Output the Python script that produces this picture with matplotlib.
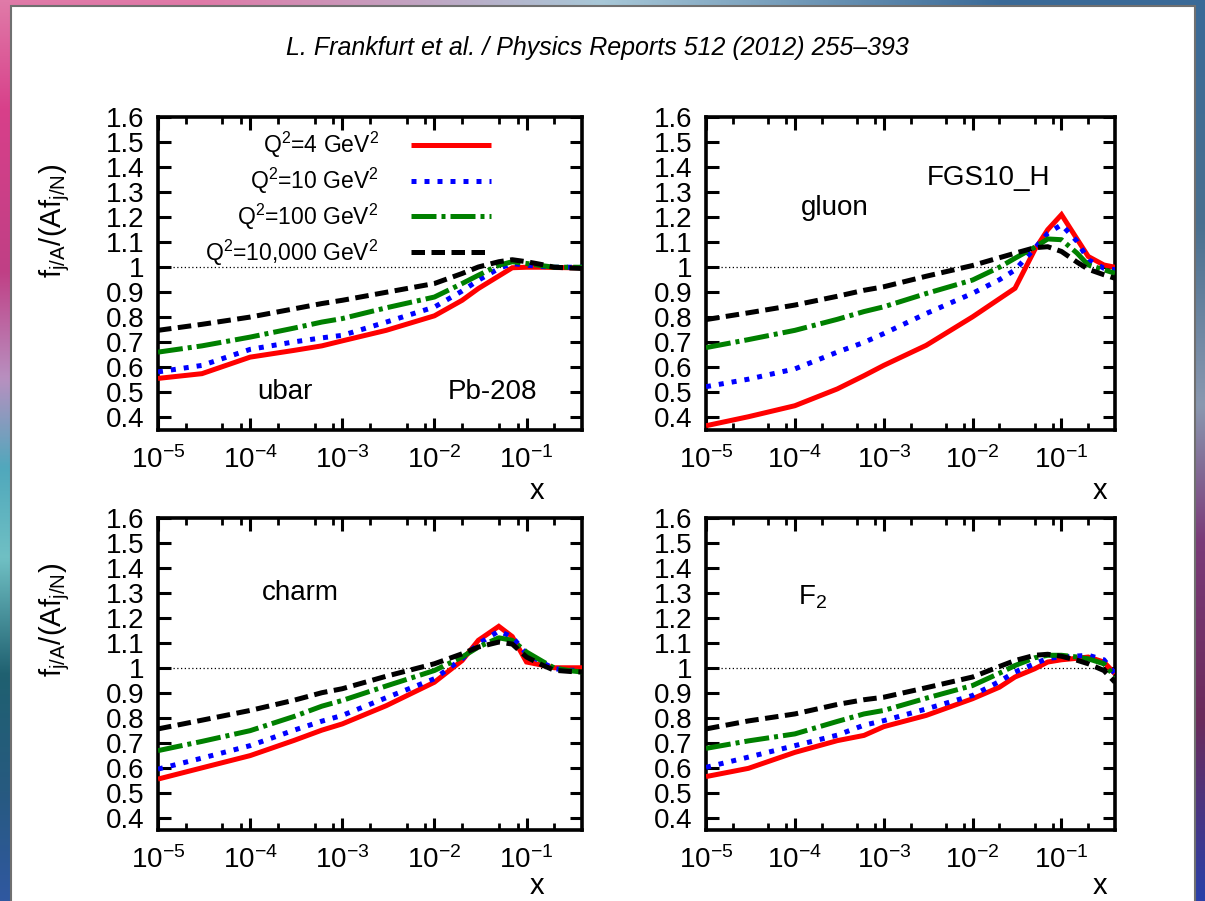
import matplotlib
matplotlib.use("Agg")
import matplotlib.pyplot as plt
import matplotlib.ticker as mticker
from matplotlib.colors import to_rgb
from matplotlib.patches import Rectangle
import numpy as np

# nuclear / nucleon PDF ratios, FGS10_H, Pb-208, four Q^2 values
plt.rcParams['font.family'] = ['Liberation Sans', 'DejaVu Sans']
plt.rcParams['mathtext.fontset'] = 'custom'
plt.rcParams['mathtext.rm'] = 'Liberation Sans'
plt.rcParams['mathtext.it'] = 'Liberation Sans:italic'
plt.rcParams['mathtext.bf'] = 'Liberation Sans:bold'

x = [1e-5, 3e-5, 1e-4, 3e-4, 6e-4, 1e-3, 3e-3, 1e-2, 2e-2, 3e-2,
     5e-2, 7e-2, 1e-1, 1.5e-1, 2e-1, 3e-1, 4e-1]

labels = ["Q$^2$=4 GeV$^2$", "Q$^2$=10 GeV$^2$",
          "Q$^2$=100 GeV$^2$", "Q$^2$=10,000 GeV$^2$"]

ubar_q4 = [.556, .575, .641, .668, .686, .706, .748, .806, .868, .915, .965, .998, 1.0, 1.0, .999, .998, .998]
ubar_q10 = [.582, .608, .672, .702, .718, .728, .781, .841, .905, .948, .995, 1.015, 1.008, 1.003, 1.0, 1.0, 1.0]
ubar_q100 = [.661, .686, .721, .757, .781, .795, .838, .881, .935, .968, 1.008, 1.022, 1.015, 1.006, 1.0, 1.0, 1.0]
ubar_q10k = [.748, .772, .801, .834, .855, .868, .900, .935, .975, 1.001, 1.022, 1.030, 1.022, 1.01, 1.0, .997, .995]

gluon_q4 = [.367, .403, .447, .514, .567, .608, .688, .802, .874, .916, 1.07, 1.15, 1.21, 1.112, 1.043, 1.009, 1.0]
gluon_q10 = [.523, .553, .594, .661, .700, .735, .815, .896, .950, .989, 1.076, 1.135, 1.17, 1.103, 1.03, .996, .99]
gluon_q100 = [.679, .711, .748, .792, .823, .842, .895, .949, 1.0, 1.036, 1.08, 1.113, 1.11, 1.056, 1.009, .99, .976]
gluon_q10k = [.791, .818, .849, .884, .908, .922, .964, 1.007, 1.038, 1.056, 1.078, 1.082, 1.063, 1.02, .992, .97, .956]

charm_q4 = [.554, .599, .648, .709, .750, .775, .848, .942, 1.029, 1.11, 1.166, 1.125, 1.023, 1.01, 1.0, 1.0, 1.0]
charm_q10 = [.594, .638, .688, .750, .786, .809, .880, .956, 1.036, 1.096, 1.147, 1.123, 1.056, 1.02, .996, .99, .99]
charm_q100 = [.668, .705, .748, .805, .846, .869, .927, .989, 1.043, 1.083, 1.12, 1.11, 1.063, 1.025, .999, .988, .983]
charm_q10k = [.755, .790, .829, .870, .900, .916, .966, 1.016, 1.056, 1.083, 1.103, 1.095, 1.043, 1.01, .99, .985, .983]

f2_q4 = [.564, .597, .661, .708, .729, .764, .809, .876, .922, .963, .996, 1.023, 1.032, 1.038, 1.043, 1.023, .976]
f2_q10 = [.601, .642, .688, .730, .770, .788, .835, .889, .945, .983, 1.016, 1.038, 1.043, 1.047, 1.05, 1.032, .976]
f2_q100 = [.677, .707, .735, .785, .815, .829, .878, .929, .978, 1.009, 1.04, 1.05, 1.05, 1.043, 1.036, 1.016, .963]
f2_q10k = [.755, .787, .815, .853, .872, .882, .920, .963, 1.005, 1.029, 1.05, 1.054, 1.046, 1.03, 1.016, .989, .942]

panels = [
    [ubar_q4, ubar_q10, ubar_q100, ubar_q10k],
    [gluon_q4, gluon_q10, gluon_q100, gluon_q10k],
    [charm_q4, charm_q10, charm_q100, charm_q10k],
    [f2_q4, f2_q10, f2_q100, f2_q10k],
]

colors = ['#ff0000', '#0000ff', '#008000', '#000000']
dashes = [None, (1.0, 1.6), (5.0, 1.0, 0.8, 1.0), (2.7, 1.3)]
LW = 3.6

fig = plt.figure(figsize=(12.05, 9.01), dpi=100)

# background behind the page
bg = fig.add_axes([0, 0, 1, 1], zorder=-5)
bg.set_axis_off()
def column(stops, n=200):
    pos = [s[0] for s in stops]
    cols = np.array([to_rgb(s[1]) for s in stops])
    t = np.linspace(0, 1, n)
    return np.stack([np.interp(t, pos, cols[:, k]) for k in range(3)], axis=1)
left_col = column([(0, '#e07aa8'), (0.12, '#d8408a'), (0.3, '#c03f85'), (0.42, '#b890c0'),
                   (0.52, '#50a8bc'), (0.62, '#70c0c4'), (0.75, '#1f6070'), (0.88, '#275a80'),
                   (1.0, '#3058a0')])
mid_col = column([(0, '#a8c8d8'), (1.0, '#a8c8d8')])
right_col = column([(0, '#3a6a98'), (0.25, '#4a7090'), (0.45, '#8a98b0'), (0.6, '#7a3a78'),
                    (0.8, '#6a2a5a'), (1.0, '#2a40a8')])
img = np.stack([left_col, mid_col, right_col], axis=1)
bg.imshow(img, extent=[0, 1, 0, 1], aspect='auto', interpolation='bilinear')
bg.add_patch(Rectangle((11 / 1205, -0.02), (1195 - 11) / 1205, 1.02 - 6 / 901,
                       facecolor='white', edgecolor='#707070', lw=1.5))
bg.set_xlim(0, 1)
bg.set_ylim(0, 1)

fig.text(597 / 1205, 1 - 48 / 901, "L. Frankfurt et al. / Physics Reports 512 (2012) 255\u2013393",
         ha='center', va='center', fontsize=18, style='italic', stretch='condensed',
         family=['Liberation Sans Narrow', 'Liberation Sans', 'DejaVu Sans'])

rects = [
    [158 / 1205, 1 - 430 / 901, 424 / 1205, 313 / 901],
    [706 / 1205, 1 - 430 / 901, 409 / 1205, 313 / 901],
    [158 / 1205, 1 - 830 / 901, 424 / 1205, 312 / 901],
    [706 / 1205, 1 - 830 / 901, 409 / 1205, 312 / 901],
]
xlabel_pos = [(0.894, -0.15), (0.963, -0.15), (0.894, -0.135), (0.963, -0.135)]

axes = []
for i, (rect, series) in enumerate(zip(rects, panels)):
    ax = fig.add_axes(rect)
    ax.set_xscale('log')
    ax.axhline(1.0, color='black', lw=0.9, ls=(0, (1, 2)), zorder=1)
    for j, ys in enumerate(series):
        line, = ax.plot(x, ys, color=colors[j], lw=LW, label=labels[j], zorder=3 + j)
        if dashes[j] is not None:
            line.set_dashes(dashes[j])
            line.set_dash_capstyle('butt')
        else:
            line.set_solid_capstyle('butt')
            line.set_solid_joinstyle('miter')
    ax.set_xlim(1e-5, 0.4)
    ax.set_ylim(0.35, 1.6)
    ax.xaxis.set_major_locator(mticker.LogLocator(base=10, numticks=10))
    ax.xaxis.set_minor_locator(mticker.LogLocator(base=10, subs=(2, 5, 8), numticks=20))
    ax.xaxis.set_minor_formatter(mticker.NullFormatter())
    ax.yaxis.set_major_locator(mticker.MultipleLocator(0.1))
    ax.yaxis.set_major_formatter(mticker.StrMethodFormatter('{x:g}'))
    ax.yaxis.set_minor_locator(mticker.NullLocator())
    ax.tick_params(which='both', direction='in', top=True, right=True, colors='black')
    ax.tick_params(which='major', length=9, width=2.2, labelsize=20)
    ax.tick_params(axis='y', which='major', pad=10)
    ax.tick_params(axis='x', which='major', pad=12)
    ax.tick_params(which='minor', length=5, width=2.0)
    for sp in ax.spines.values():
        sp.set_linewidth(2.6)
    ax.set_xlabel('x', fontsize=21)
    ax.xaxis.set_label_coords(*xlabel_pos[i])
    axes.append(ax)

ax_ubar, ax_gluon, ax_charm, ax_f2 = axes

ax_ubar.legend(loc='upper right', bbox_to_anchor=(0.785, 0.96), frameon=False,
               markerfirst=False, fontsize=16.5, handlelength=3.5, handletextpad=1.4,
               labelspacing=0.25, borderpad=0, borderaxespad=0)

ax_ubar.text(0.30, 0.12, 'ubar', transform=ax_ubar.transAxes, ha='center', va='center', fontsize=20)
ax_ubar.text(0.79, 0.12, 'Pb-208', transform=ax_ubar.transAxes, ha='center', va='center', fontsize=20)
ax_gluon.text(0.69, 0.805, 'FGS10_H', transform=ax_gluon.transAxes, ha='center', va='center', fontsize=20)
ax_gluon.text(0.315, 0.71, 'gluon', transform=ax_gluon.transAxes, ha='center', va='center', fontsize=20)
ax_charm.text(0.335, 0.76, 'charm', transform=ax_charm.transAxes, ha='center', va='center', fontsize=20)
ax_f2.text(0.26, 0.745, 'F$_2$', transform=ax_f2.transAxes, ha='center', va='center', fontsize=20)

ylab = r'$\mathrm{f_{j/A}/(Af_{j/N})}$'
fig.text(55 / 1205, 1 - 221 / 901, ylab, rotation=90, ha='center', va='center', fontsize=21)
fig.text(55 / 1205, 1 - 620 / 901, ylab, rotation=90, ha='center', va='center', fontsize=21)

fig.savefig('out.png', dpi=100)
